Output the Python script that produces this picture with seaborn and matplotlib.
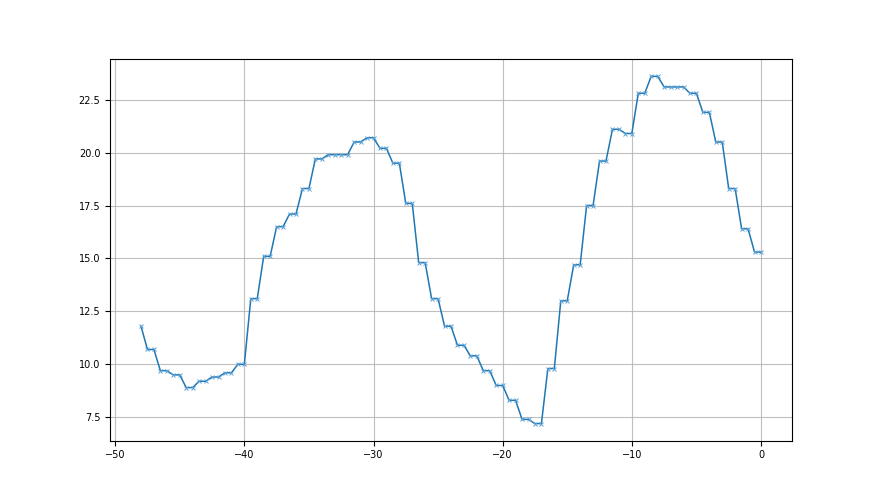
import numpy as np
import pandas as pd
import matplotlib
matplotlib.use("Agg")
import matplotlib.pyplot as plt
import seaborn as sns

x_vals = [-48.0, -47.5, -47.0, -46.5, -46.0, -45.5, -45.0, -44.5, -44.0, -43.5, -43.0,
          -42.5, -42.0, -41.5, -41.0, -40.5, -40.0, -39.5, -39.0, -38.5, -38.0,
          -37.5, -37.0, -36.5, -36.0, -35.5, -35.0, -34.5, -34.0, -33.5, -33.0,
          -32.5, -32.0, -31.5, -31.0, -30.5, -30.0, -29.5, -29.0, -28.5, -28.0,
          -27.5, -27.0, -26.5, -26.0, -25.5, -25.0, -24.5, -24.0, -23.5, -23.0,
          -22.5, -22.0, -21.5, -21.0, -20.5, -20.0, -19.5, -19.0, -18.5, -18.0,
          -17.5, -17.0, -16.5, -16.0, -15.5, -15.0, -14.5, -14.0, -13.5, -13.0,
          -12.5, -12.0, -11.5, -11.0, -10.5, -10.0, -9.5, -9.0, -8.5, -8.0,
          -7.5, -7.0, -6.5, -6.0, -5.5, -5.0, -4.5, -4.0, -3.5, -3.0,
          -2.5, -2.0, -1.5, -1.0, -0.5, 0.0]
y_vals = [11.8, 10.7, 10.7, 9.7, 9.7, 9.5, 9.5, 8.9, 8.9, 9.2, 9.2,
          9.4, 9.4, 9.6, 9.6, 10.0, 10.0, 13.1, 13.1, 15.1, 15.1,
          16.5, 16.5, 17.1, 17.1, 18.3, 18.3, 19.7, 19.7, 19.9, 19.9,
          19.9, 19.9, 20.5, 20.5, 20.7, 20.7, 20.2, 20.2, 19.5, 19.5,
          17.6, 17.6, 14.8, 14.8, 13.1, 13.1, 11.8, 11.8, 10.9, 10.9,
          10.4, 10.4, 9.7, 9.7, 9.0, 9.0, 8.3, 8.3, 7.4, 7.4,
          7.2, 7.2, 9.8, 9.8, 13.0, 13.0, 14.7, 14.7, 17.5, 17.5,
          19.6, 19.6, 21.1, 21.1, 20.9, 20.9, 22.8, 22.8, 23.6, 23.6,
          23.1, 23.1, 23.1, 23.1, 22.8, 22.8, 21.9, 21.9, 20.5, 20.5,
          18.3, 18.3, 16.4, 16.4, 15.3, 15.3]

df = pd.DataFrame({"x": x_vals, "y": y_vals})

sns.set_style("ticks")
plt.rcParams['font.family'] = ['DejaVu Sans']
fig, ax = plt.subplots(figsize=(8.8, 4.95), dpi=100)
sns.lineplot(data=df, x="x", y="y", ax=ax, color="#1f77b4", linewidth=1.1,
             marker="x", markersize=3.5, markeredgecolor="#5fa2d6", markeredgewidth=0.7)
ax.grid(True, color="#b0b0b0", linewidth=0.8, alpha=0.8)
ax.set_xlabel("")
ax.set_ylabel("")
ax.set_yticks([7.5, 10.0, 12.5, 15.0, 17.5, 20.0, 22.5])
ax.set_yticklabels(["7.5", "10.0", "12.5", "15.0", "17.5", "20.0", "22.5"])
ax.tick_params(labelsize=7, length=3.5, width=0.8, colors="black")
for s in ax.spines.values():
    s.set_visible(True)
    s.set_color("black")
    s.set_linewidth(0.8)
ax.set_xlim(-50.4, 2.4)
ax.set_ylim(6.4, 24.4)
fig.subplots_adjust(left=0.125, right=0.9, top=0.88, bottom=0.11)
fig.savefig("out.png", dpi=100)
